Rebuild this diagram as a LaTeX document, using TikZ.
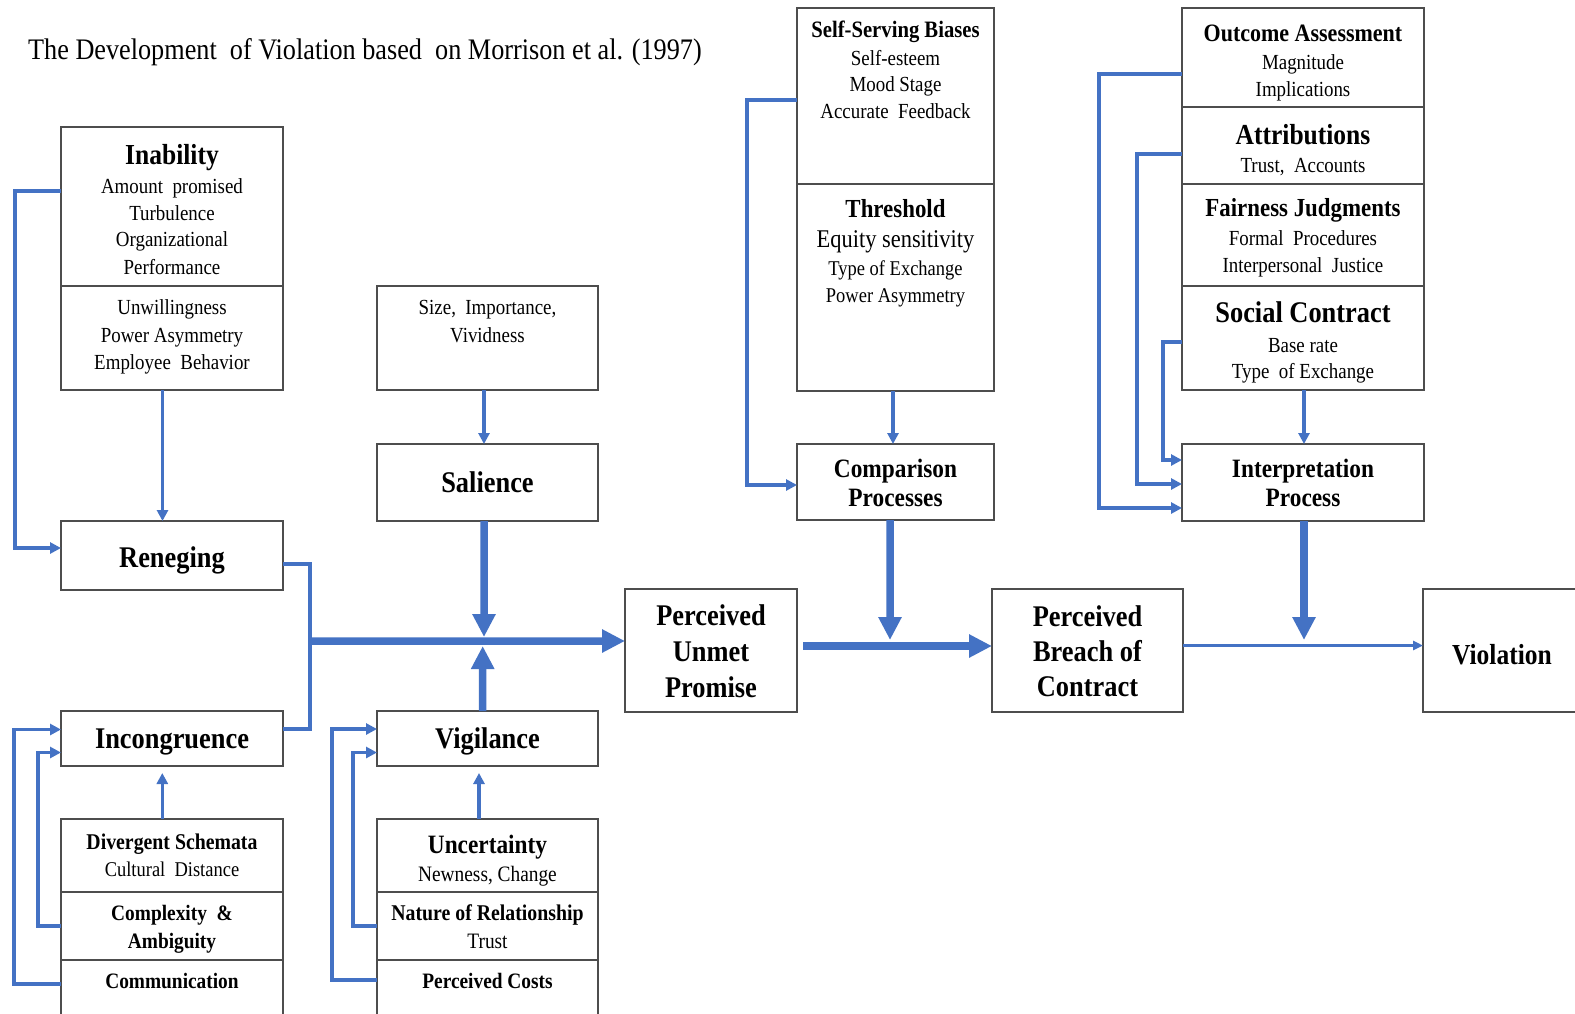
\documentclass[tikz,border=0pt]{standalone}
\usepackage{fontspec}
\setmainfont[FakeStretch=0.88]{Liberation Serif}
\usetikzlibrary{arrows.meta}

\definecolor{flow}{HTML}{4472C4}
\definecolor{frame}{HTML}{4D4D4D}

% a framed compartment given by its corners (x1,y1) and (x2,y2)
\newcommand\boxat[5]{%
  \node[box, minimum width={(#4-#2)*1bp}, minimum height={(#5-#3)*1bp}]
    (#1) at ({(#2+#4)/2},{(#3+#5)/2}) {};}
% one line of text centred at x, with its cap height centred at y
\newcommand\boxline[6]{%
  \node[lab] (#1) at (#2,{#3+0.33*#4}) {\fontsize{#4bp}{#4bp}\selectfont#5#6};}

\begin{document}
\begin{tikzpicture}[x=1bp,y=-1bp,
  box/.style={draw=frame, line width=1.4bp, rectangle, inner sep=0pt, outer sep=0pt},
  lab/.style={anchor=base, inner sep=0pt, outer sep=0pt},
  link/.style={draw=flow, line width=3.2bp, -{Triangle[length=11bp,width=11bp]}},
  wire/.style={draw=flow, line width=3.2bp},
  heavy/.style={draw=flow, line width=7.5bp, -{Triangle[length=23bp,width=22bp]}}]

\useasboundingbox (0,0) rectangle (1575,1013);
\fill[white] (0,0) rectangle (1575,1013);

% title
\node[anchor=base west, inner sep=0pt] (title) at (28,{49.5+0.33*30})
  {\fontsize{29.8bp}{29.8bp}\selectfont The Development\ \ of Violation based\ \ on Morrison et al. (1997)};

% ---------- boxes ----------
\boxat{inab}{61}{127}{283}{286}
\boxat{unw}{61}{286}{283}{390}
\boxat{ren}{61}{521}{283}{590}
\boxat{size}{377}{286}{598}{390}
\boxat{sal}{377}{444}{598}{521}
\boxat{vig}{377}{711}{598}{766}
\boxat{unc}{377}{819}{598}{892}
\boxat{nat}{377}{892}{598}{960}
\boxat{cost}{377}{960}{598}{1030}
\boxat{inc}{61}{711}{283}{766}
\boxat{div}{61}{819}{283}{892}
\boxat{cpx}{61}{892}{283}{960}
\boxat{com}{61}{960}{283}{1030}
\boxat{unmet}{625}{589}{797}{712}
\boxat{self}{797}{8}{994}{184}
\boxat{thr}{797}{184}{994}{391}
\boxat{cmp}{797}{444}{994}{520}
\boxat{breach}{992}{589}{1183}{712}
\boxat{out}{1182}{8}{1424}{107}
\boxat{att}{1182}{107}{1424}{184}
\boxat{fair}{1182}{184}{1424}{286}
\boxat{soc}{1182}{286}{1424}{390}
\boxat{intp}{1182}{444}{1424}{521}
\boxat{viol}{1423}{589}{1600}{712}

% ---------- texts ----------
\boxline{tInab}{172}{155}{29}{\bfseries}{Inability}
\boxline{tAmt}{172}{186}{21.5}{}{Amount\ \ promised}
\boxline{tTurb}{172}{213}{21.5}{}{Turbulence}
\boxline{tOrg}{172}{239.5}{21.5}{}{Organizational}
\boxline{tPerf}{172}{267.5}{21.5}{}{Performance}
\boxline{tUnw}{172}{307}{21.5}{}{Unwillingness}
\boxline{tPow}{172}{335}{21.5}{}{Power Asymmetry}
\boxline{tEmp}{172}{362}{21.5}{}{Employee\ \ Behavior}
\boxline{tRen}{172}{558}{30}{\bfseries}{Reneging}

\boxline{tSize}{487.5}{307.5}{21.5}{}{Size,\ \ Importance,}
\boxline{tViv}{487.5}{335}{21.5}{}{Vividness}
\boxline{tSal}{487.5}{483}{30}{\bfseries}{Salience}
\boxline{tVig}{487.5}{739}{30}{\bfseries}{Vigilance}
\boxline{tUnc}{487.5}{845}{26.5}{\bfseries}{Uncertainty}
\boxline{tNew}{487.5}{874}{22}{}{Newness, Change}
\boxline{tNat}{487.5}{913}{22.5}{\bfseries}{Nature of Relationship}
\boxline{tTrust}{487.5}{941}{22}{}{Trust}
\boxline{tCost}{487.5}{981}{22}{\bfseries}{Perceived Costs}

\boxline{tInc}{172}{739}{30}{\bfseries}{Incongruence}
\boxline{tDiv}{172}{842}{22.5}{\bfseries}{Divergent Schemata}
\boxline{tCul}{172}{870}{21}{}{Cultural\ \ Distance}
\boxline{tCpx}{172}{913}{22}{\bfseries}{Complexity \ \&}
\boxline{tAmb}{172}{941}{22}{\bfseries}{Ambiguity}
\boxline{tCom}{172}{981}{22}{\bfseries}{Communication}

\boxline{tUn1}{711}{616}{30}{\bfseries}{Perceived}
\boxline{tUn2}{711}{652}{30}{\bfseries}{Unmet}
\boxline{tUn3}{711}{688}{30}{\bfseries}{Promise}

\boxline{tSelf}{895.5}{30}{23.5}{\bfseries}{Self-Serving Biases}
\boxline{tEst}{895.5}{58}{21.5}{}{Self-esteem}
\boxline{tMood}{895.5}{84.5}{21.5}{}{Mood Stage}
\boxline{tFeed}{895.5}{111}{21.5}{}{Accurate\ \ Feedback}
\boxline{tThr}{895.5}{209}{26}{\bfseries}{Threshold}
\boxline{tEq}{895.5}{239}{25.5}{}{Equity sensitivity}
\boxline{tType}{895.5}{269}{21}{}{Type of Exchange}
\boxline{tPow2}{895.5}{296}{21}{}{Power Asymmetry}
\boxline{tCmp1}{895.5}{469}{26.5}{\bfseries}{Comparison}
\boxline{tCmp2}{895.5}{498}{26.5}{\bfseries}{Processes}

\boxline{tBr1}{1087.5}{617}{30}{\bfseries}{Perceived}
\boxline{tBr2}{1087.5}{652}{30}{\bfseries}{Breach of}
\boxline{tBr3}{1087.5}{687}{30}{\bfseries}{Contract}

\boxline{tOut}{1303}{33}{25}{\bfseries}{Outcome Assessment}
\boxline{tMag}{1303}{62}{21.5}{}{Magnitude}
\boxline{tImp}{1303}{89}{21.5}{}{Implications}
\boxline{tAtt}{1303}{135}{29}{\bfseries}{Attributions}
\boxline{tAcc}{1303}{165}{21.5}{}{Trust,\ \ Accounts}
\boxline{tFair}{1303}{208}{26}{\bfseries}{Fairness Judgments}
\boxline{tForm}{1303}{238}{21.5}{}{Formal\ \ Procedures}
\boxline{tJust}{1303}{265}{21.5}{}{Interpersonal\ \ Justice}
\boxline{tSoc}{1303}{313}{30}{\bfseries}{Social Contract}
\boxline{tBase}{1303}{345}{21.5}{}{Base rate}
\boxline{tType2}{1303}{371}{21.5}{}{Type\ \ of Exchange}
\boxline{tInt1}{1303}{469}{26.5}{\bfseries}{Interpretation}
\boxline{tInt2}{1303}{498}{26.5}{\bfseries}{Process}

\boxline{tViol}{1502}{655}{29}{\bfseries}{Violation}

% ---------- junction points and arrow ends ----------
\coordinate (jn) at (310,641);
\coordinate (salTip) at (484,637);
\coordinate (vigTip) at (482.7,646);
\coordinate (cmpTip) at (890,640);
\coordinate (intpTip) at (1304,640);

% ---------- thin connectors ----------
\draw[link] ([yshift=15.5bp]inab.west) -- ++(-46,0) |- ([yshift=7.5bp]ren.west);
\draw[link] ([xshift=-9.5bp]unw.south) -- ([xshift=-9.5bp]ren.north);
\draw[link] ([xshift=-3.5bp]size.south) -- ([xshift=-3.5bp]sal.north);
\draw[link, shorten >=7bp] ([xshift=-9.7bp]div.north) -- ([xshift=-9.7bp]inc.south);
\draw[link, shorten >=7bp] ([xshift=-8.5bp]unc.north) -- ([xshift=-8.5bp]vig.south);
\draw[link] ([yshift=11bp]com.west) -- ++(-47,0) |- ([yshift=9bp]inc.west);
\draw[link] (cpx.west) -- ++(-23,0) |- ([yshift=-14bp]inc.west);
\draw[link] ([yshift=15bp]cost.west) -- ++(-45,0) |- ([yshift=9.5bp]vig.west);
\draw[link] (nat.west) -- ++(-24,0) |- ([yshift=-14bp]vig.west);
\draw[wire] ([yshift=-8.5bp]ren.east) -| (jn) |- ([yshift=9.5bp]inc.east);

\draw[link] ([yshift=-4bp]self.west) -- ++(-50,0) |- ([yshift=-3bp]cmp.west);
\draw[link] ([xshift=-2.5bp]thr.south) -- ([xshift=-2.5bp]cmp.north);

\draw[link] ([yshift=-16.5bp]out.west) -- ++(-83,0) |- ([yshift=-25.5bp]intp.west);
\draw[link] ([yshift=-8.5bp]att.west) -- ++(-45,0) |- ([yshift=-1.5bp]intp.west);
\draw[link] ([yshift=-4bp]soc.west) -- ++(-19,0) |- ([yshift=22.5bp]intp.west);
\draw[link] ([xshift=1bp]soc.south) -- ([xshift=1bp]intp.north);

\draw[link, line width=3.5bp, -{Triangle[length=10bp,width=9bp]}]
  ([yshift=5bp]breach.east) -- ([yshift=5bp]viol.west);

% ---------- heavy connectors ----------
\draw[heavy] (jn) -- ([yshift=9.5bp]unmet.west);
\draw[heavy] ([xshift=-3.5bp]sal.south) -- (salTip);
\draw[heavy] ([xshift=-4.8bp]vig.north) -- (vigTip);
\draw[heavy, shorten <=6bp] ([yshift=4.5bp]unmet.east) -- ([yshift=4.5bp]breach.west);
\draw[heavy] ([xshift=-5.5bp]cmp.south) -- (cmpTip);
\draw[heavy] ([xshift=1bp]intp.south) -- (intpTip);

\end{tikzpicture}
\end{document}
